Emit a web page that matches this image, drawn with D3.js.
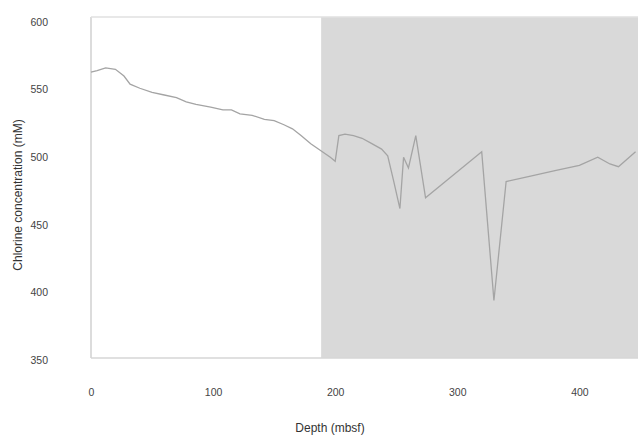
<!DOCTYPE html>
<html>
<head>
<meta charset="utf-8">
<script src="https://cdn.jsdelivr.net/npm/d3@7"></script>
<style>
  body { margin: 0; background: #fff; }
  text { font-family: "Liberation Sans", Arial, sans-serif; }
</style>
</head>
<body>
<script>
// depth (mbsf) and chlorine (mM)
var depth = [0, 5, 12, 20, 27, 32, 40, 50, 60, 70, 78, 86, 98, 108, 115, 122, 132, 142, 150, 158, 165, 172, 180, 188, 196, 200,
             203, 208, 215, 222, 230, 238, 243, 248, 253, 256, 260, 266, 274, 320, 330, 340, 360, 380, 400, 415, 425, 432, 446];
var chlorine = [563, 564, 566, 565, 560, 554, 551, 548, 546, 544, 541, 539, 537, 535, 535, 532, 531, 528, 527, 524, 521, 516, 510, 505, 500, 497,
                516, 517, 516, 514, 510, 506, 501, 482, 462, 500, 492, 516, 470, 504, 394, 482, 486, 490, 494, 500, 495, 493, 504];
var xTicks = [0, 100, 200, 300, 400];
var yTicks = [350, 400, 450, 500, 550, 600];
var shadeFrom = 188.5;

var width = 640, height = 440;
var svg = d3.select('body').append('svg').attr('width', width).attr('height', height);

var x = d3.scaleLinear().domain([0, 448]).range([91, 638]);
var y = d3.scaleLinear().domain([350, 600]).range([360, 22]);
var plotTop = 17, plotBottom = 358;

// shaded zone
svg.append('rect')
  .attr('x', x(shadeFrom)).attr('y', plotTop)
  .attr('width', x(448) - x(shadeFrom)).attr('height', plotBottom - plotTop)
  .attr('fill', '#d9d9d9');

// frame lines
svg.append('line').attr('x1', x(0)).attr('x2', x(0)).attr('y1', plotTop).attr('y2', plotBottom).attr('stroke', '#d0d0d0').attr('stroke-width', 1.5);
svg.append('line').attr('x1', x(0)).attr('x2', x(448)).attr('y1', plotTop).attr('y2', plotTop).attr('stroke', '#e0e0e0').attr('stroke-width', 1.5);
svg.append('line').attr('x1', x(0)).attr('x2', x(448)).attr('y1', plotBottom).attr('y2', plotBottom).attr('stroke', '#d6d6d6').attr('stroke-width', 1.5);

// axes (labels only, lines drawn above)
var yAxis = svg.append('g').attr('transform', 'translate(' + x(0) + ',0)')
  .call(d3.axisLeft(y).tickValues(yTicks).tickSize(0).tickPadding(43));
var xAxis = svg.append('g').attr('transform', 'translate(0,' + plotBottom + ')')
  .call(d3.axisBottom(x).tickValues(xTicks).tickSize(0).tickPadding(31));
[yAxis, xAxis].forEach(function(a) {
  a.select('.domain').remove();
  a.selectAll('text').attr('fill', '#444').style('font-size', '10.5px');
});

// the data line
var line = d3.line()
  .x(function(d, i) { return x(depth[i]); })
  .y(function(d) { return y(d); });
svg.append('path')
  .attr('fill', 'none')
  .attr('stroke', '#a4a4a4')
  .attr('stroke-width', 1.3)
  .attr('d', line(chlorine));

// titles
svg.append('text')
  .attr('x', 330).attr('y', 432)
  .attr('text-anchor', 'middle')
  .attr('fill', '#333')
  .style('font-size', '12px')
  .text('Depth (mbsf)');
svg.append('text')
  .attr('transform', 'translate(22,195) rotate(-90)')
  .attr('text-anchor', 'middle')
  .attr('fill', '#333')
  .style('font-size', '12px')
  .text('Chlorine concentration (mM)');
</script>
</body>
</html>
